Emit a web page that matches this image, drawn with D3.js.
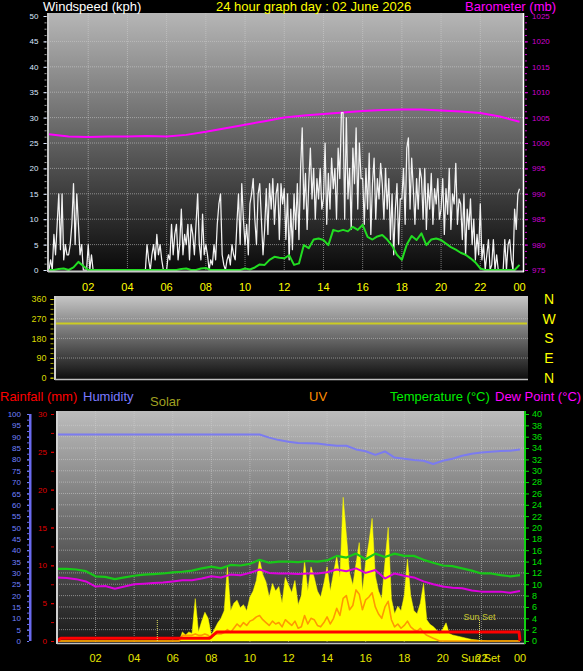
<!DOCTYPE html>
<html>
<head>
<meta charset="utf-8">
<script src="https://cdn.jsdelivr.net/npm/d3@7"></script>
<style>
  body { margin: 0; background: #000; }
  text { font-family: "Liberation Sans", Arial, sans-serif; }
</style>
</head>
<body>
<script>
// ---- values, 02 June 2026 ----

var hourTicks  = [2, 4, 6, 8, 10, 12, 14, 16, 18, 20, 22, 24];
var hourLabels = ["02","04","06","08","10","12","14","16","18","20","22","00"];

// windspeed samples (kph), one row per hour, 5 minutes apart, last value = 24:00
var windSpeedRows = [
  [0,2,0,7,3,9,15,4,15,2,5,3],
  [3,5,9,17,5,15,9,3,5,0,0,0],
  [5,0,3,0,0,0,0,0,0,0,0,0],
  [0,0,0,0,0,0,0,0,0,0,0,0],
  [0,0,0,0,0,0,0,0,0,0,0,0],
  [5,2,0,3,5,2,7,3,5,2,0,0],
  [0,3,2,9,3,7,9,2,5,12,3,7],
  [5,9,2,9,7,3,9,15,5,2,11,3],
  [5,3,0,2,1,5,2,9,13,15,3,1],
  [0,2,3,1,5,3,2,9,15,5,17,10],
  [5,9,3,13,15,18,10,5,15,17,10,3],
  [8,16,7,17,12,18,9,15,17,6,17,13],
  [16,6,15,2,12,4,15,8,17,6,20,28],
  [12,19,8,17,24,14,20,10,18,14,20,12],
  [14,25,9,19,12,22,16,20,10,24,18,31],
  [31,10,30,14,20,8,24,17,28,12,25,18],
  [18,9,20,12,23,7,17,22,10,18,14,21],
  [17,10,20,12,18,6,15,3,12,17,5,14],
  [14,20,9,24,26,12,22,16,9,18,12,20],
  [18,10,20,8,17,12,19,9,16,13,18,10],
  [12,18,7,16,11,20,8,15,13,21,9,14],
  [13,6,15,3,12,8,14,5,10,2,7,3],
  [13,2,5,0,3,6,0,1,6,0,3,0],
  [0,0,0,6,0,5,6,2,0,12,8,15],
  [16]
];

// average windspeed (kph), every 15 minutes
var windAvgRows = [
  [0,0,0.2,0.3, 0,0.5,1.6,0.8, 0,0,0,0],
  [0,0,0,0, 0,0,0,0, 0,0,0,0],
  [0,0,0,0.2, 0.3,0,0,0.3, 0.4,0,0,0],
  [0,0,0,0, 0.3,0.1,0.5,1.1, 1.0,2.0,2.6,2.4],
  [2.3,2.9,1.0,1.3, 4.9,4.3,6.0,6.2, 5.9,4.9,7.9,7.6],
  [7.9,7.6,8.5,7.9, 8.9,6.5,6.0,6.6, 6.9,6.0,4.8,3.0],
  [2.0,5.0,6.7,5.9, 7.2,4.9,6.0,6.2, 5.9,5.2,4.5,4.0],
  [3.4,3.0,2.3,1.5, 0.3,0,0,0, 0,0,0,0],
  [1.0]
];

// barometer (mb), hourly 00:00 .. 24:00
var barometer = [1001.7,1001.3,1001.2,1001.3,1001.3,1001.4,1001.3,1001.6,1002.2,1002.9,
                 1003.6,1004.3,1005.0,1005.4,1005.7,1006.0,1006.3,1006.5,1006.6,1006.6,
                 1006.4,1006.2,1005.9,1005.2,1004.2];

// wind direction (degrees), hourly
var windDir = [248,248,248,248,248,248,248,248,248,248,248,248,248,
               248,248,248,248,248,248,248,248,248,248,248,248];
var compass = ["N","W","S","E","N"];
var compassDeg = [360, 270, 180, 90, 0];

// humidity (%), temperature and dew point (C), every 30 minutes
var humidity = [91,91,91,91,91,91,91,91,
                91,91,91,91,91,91,91,91,
                91,91,91,91,91,91,89.6,88.5,
                87.8,87.2,87.1,87.0,86.5,86.0,86.0,84.4,
                83.6,82.0,83.5,80.8,80.3,79.7,79.4,78.0,
                79.4,80.3,81.6,82.5,83.0,83.4,83.7,83.8,
                84.4];
var temperature = [12.7,12.7,12.6,12.3,11.4,11.3,10.9,11.2,
                   11.5,11.7,11.8,11.9,12.1,12.2,12.4,12.8,
                   13.1,12.8,13.4,13.3,13.6,14.3,13.8,14.0,
                   14.0,13.9,14.1,14.0,14.2,15.0,14.7,15.4,
                   14.4,15.4,14.8,15.4,15.0,15.0,14.3,13.8,
                   13.3,13.2,12.8,12.4,11.9,11.9,11.6,11.4,
                   11.6];
var dewPoint = [11.2,11.1,10.9,10.5,9.6,9.7,9.2,9.6,
                10.0,10.1,10.2,10.3,10.5,10.7,10.7,11.0,
                11.4,11.2,11.7,11.6,12.0,12.6,12.0,11.9,
                11.9,11.8,11.9,11.9,12.1,12.6,12.3,12.8,
                12.0,12.5,11.0,11.9,11.5,11.2,10.5,10.0,
                9.6,9.4,9.3,8.9,8.7,8.7,8.7,8.5,
                8.8];

// solar (W/m2) and UV index, every 10 minutes, one row per hour
var solarRows = [
  [0,0,0,0,0,0],[0,0,0,0,0,0],[0,0,0,0,0,0],[0,0,0,0,0,0],[0,0,0,0,0,0],[0,0,0,0,0,0],
  [0,0,0,60,40,60],
  [50,280,60,130,190,150],
  [40,80,120,150,200,490],
  [200,250,270,220,240,200],
  [290,330,400,540,440,390],
  [290,380,330,360,250,420],
  [370,320,400,240,300,530],
  [330,490,420,330,290,380],
  [490,330,450,560,420,950],
  [700,450,370,510,650,330],
  [520,650,810,430,330,280],
  [520,750,280,180,230,200],
  [300,540,300,200,180,250],
  [380,140,110,95,75,50],
  [80,120,50,40,35,30],
  [25,20,15,10,8,6],
  [4,2,0,0,0,0],
  [0,0,0,0,0,0],
  [0]
];
var uvRows = [
  [0,0,0,0,0,0],[0,0,0,0,0,0],[0,0,0,0,0,0],[0,0,0,0,0,0],[0,0,0,0,0,0],[0,0,0,0,0,0],
  [0,0,0,0.4,0.4,0.4],
  [0.4,0.5,0.4,0.4,0.5,0.4],
  [0.2,0.5,0.5,0.5,0.6,0.8],
  [0.6,0.9,1.2,1.0,1.3,1.1],
  [1.4,1.5,1.7,1.8,1.5,1.3],
  [1.1,1.4,1.2,1.3,1.0,1.5],
  [1.3,1.1,1.4,0.9,1.0,1.8],
  [1.2,1.6,1.5,1.1,1.0,1.3],
  [1.7,1.2,1.6,2.3,1.8,3.0],
  [3.2,2.2,2.5,3.6,3.3,2.2],
  [2.9,3.1,3.4,2.4,1.9,1.6],
  [2.4,2.8,1.5,1.0,1.2,0.9],
  [1.1,1.4,1.0,0.8,0.7,0.9],
  [0.6,0.4,0.3,0.2,0.1,0],
  [0,0,0,0,0,0],[0,0,0,0,0,0],[0,0,0,0,0,0],[0,0,0,0,0,0],
  [0]
];

// rainfall total (mm) as [hour, mm]
var rainfall = [[0,0],[0.2,0.35],[7.9,0.35],[8.3,1.2],[23.95,1.2],[24,0]];

var sunRise = 5.2, sunSet = 21.9;

// ---- setup ----
var windSpeed = d3.merge(windSpeedRows);
var windAvg = d3.merge(windAvgRows);
var solar = d3.merge(solarRows);
var uv = d3.merge(uvRows);

var FONT = '"Liberation Sans", Arial, sans-serif';

var svg = d3.select('body').append('svg').attr('width', 583).attr('height', 671);
svg.append('rect').attr('width', 583).attr('height', 671).attr('fill', '#000');
var defs = svg.append('defs');

function gradient(id, top, bottom){
   var g = defs.append('linearGradient').attr('id', id)
      .attr('x1', 0).attr('y1', 0).attr('x2', 0).attr('y2', 1);
   g.append('stop').attr('offset', '0%').attr('stop-color', top);
   g.append('stop').attr('offset', '100%').attr('stop-color', bottom);
}
gradient('bgTop', '#b6b6b6', '#090909');
gradient('bgDir', '#c6c6c6', '#0c0c0c');
gradient('bgBot', '#bcbcbc', '#181818');

// scales
var xTop = d3.scaleLinear().domain([0, 24]).range([49, 519.5]);
var yWind = d3.scaleLinear().domain([0, 50]).range([270, 16]);
var yBaro = d3.scaleLinear().domain([975, 1025]).range([270, 16]);

var xDir = d3.scaleLinear().domain([0, 24]).range([56, 527]);
var yDir = d3.scaleLinear().domain([0, 360]).range([377.7, 299]);

var xBot = d3.scaleLinear().domain([0, 24]).range([57, 520]);
var yHum = d3.scaleLinear().domain([0, 100]).range([641, 414]);
var yRain = d3.scaleLinear().domain([0, 30]).range([641, 414]);
var yTemp = d3.scaleLinear().domain([0, 40]).range([641, 414]);
var ySolar = d3.scaleLinear().domain([0, 1500]).range([641, 414]);
var yUV = d3.scaleLinear().domain([0, 16]).range([641, 414]);

function styleAxis(g, color, size){
   g.select('.domain').remove();
   g.selectAll('line').attr('stroke', color);
   g.selectAll('text').attr('fill', color)
      .style('font-size', size + 'px').style('font-family', FONT);
}

function addAxis(axis, x, color, size){
   var g = svg.append('g').attr('transform', 'translate(' + x + ',0)').call(axis);
   styleAxis(g, color, size);
   return g;
}

function drawPanel(x0, x1, y0, y1, fill){
   svg.append('rect').attr('x', x0).attr('y', y0)
      .attr('width', x1 - x0).attr('height', y1 - y0).attr('fill', fill);
}

function gridLines(xs, ys, x0, x1, y0, y1){
   var g = svg.append('g').attr('stroke', '#d0d0d0').attr('stroke-opacity', 0.55)
      .attr('stroke-dasharray', '1,1');
   g.selectAll('line.v').data(xs).enter().append('line').attr('class', 'v')
      .attr('x1', function(d){ return d; }).attr('x2', function(d){ return d; })
      .attr('y1', y0).attr('y2', y1);
   g.selectAll('line.h').data(ys).enter().append('line').attr('class', 'h')
      .attr('x1', x0).attr('x2', x1)
      .attr('y1', function(d){ return d; }).attr('y2', function(d){ return d; });
}

function addText(str, x, y, color, size, anchor){
   return svg.append('text').attr('x', x).attr('y', y).attr('fill', color)
      .attr('text-anchor', anchor || 'start')
      .style('font-size', size + 'px').style('font-family', FONT).text(str);
}

function drawLine(data, xf, yf, color, width){
   svg.append('path').datum(data)
      .attr('d', d3.line().x(xf).y(yf))
      .attr('fill', 'none').attr('stroke', color).attr('stroke-width', width)
      .attr('stroke-linejoin', 'round');
}

// ---- top graph: windspeed and barometer ----
drawPanel(48, 524, 13, 272, 'url(#bgTop)');
gridLines(hourTicks.slice(0, 11).map(xTop), d3.range(5, 50, 5).map(yWind), 48, 523, 13, 271);

drawLine(barometer, function(d, i){ return xTop(i); }, function(d){ return yBaro(d); }, '#ff00ff', 2);
drawLine(windSpeed, function(d, i){ return xTop(i / 12); }, function(d){ return yWind(d); }, '#f2f2f2', 1.25);
drawLine(windAvg, function(d, i){ return xTop(i / 4); }, function(d){ return yWind(d); }, '#22dd22', 2);

svg.append('line').attr('x1', 48).attr('x2', 48).attr('y1', 13).attr('y2', 272)
   .attr('stroke', '#c8c8c8').attr('stroke-width', 2);
svg.append('line').attr('x1', 48).attr('x2', 524).attr('y1', 271.5).attr('y2', 271.5)
   .attr('stroke', '#c8c8c8').attr('stroke-width', 2);
svg.append('line').attr('x1', 523.5).attr('x2', 523.5).attr('y1', 13).attr('y2', 272)
   .attr('stroke', '#ffffff').attr('stroke-width', 1.5);

addAxis(d3.axisLeft(yWind).tickValues(d3.range(0, 50.01, 1.25)).tickSize(2).tickFormat(''), 46.5, '#a0a0a0', 8);
addAxis(d3.axisLeft(yWind).tickValues(d3.range(0, 51, 5)).tickSize(3).tickPadding(5), 46.5, '#dde8ff', 8);
addAxis(d3.axisRight(yBaro).tickValues(d3.range(975, 1025.01, 1.25)).tickSize(2).tickFormat(''), 525, '#cc00cc', 8);
addAxis(d3.axisRight(yBaro).tickValues(d3.range(975, 1026, 5)).tickSize(3).tickPadding(4)
   .tickFormat(d3.format('d')), 525, '#d000d0', 8);

svg.selectAll('text.top-hour').data(hourTicks).enter().append('text')
   .attr('class', 'top-hour')
   .attr('x', function(d){ return xTop(d); }).attr('y', 291)
   .attr('text-anchor', 'middle').attr('fill', '#ffff00')
   .style('font-size', '11px').style('font-family', FONT)
   .text(function(d, i){ return hourLabels[i]; });

addText('Windspeed (kph)', 43, 11, '#ffffff', 13);
addText('24 hour graph day : 02 June 2026', 216, 11, '#ffff00', 13);
addText('Barometer (mb)', 465, 11, '#ff00ff', 13);

// ---- wind direction ----
drawPanel(55, 528, 296, 380, 'url(#bgDir)');
gridLines([], [90, 180, 270].map(yDir), 55, 528, 296, 380);
drawLine(windDir, function(d, i){ return xDir(i); }, function(d){ return yDir(d); }, '#cccc22', 2);
svg.append('line').attr('x1', 55).attr('x2', 55).attr('y1', 296).attr('y2', 380)
   .attr('stroke', '#d0d0d0').attr('stroke-width', 2);
svg.append('line').attr('x1', 55).attr('x2', 528).attr('y1', 379.5).attr('y2', 379.5)
   .attr('stroke', '#c0c0c0').attr('stroke-width', 1.5);

addAxis(d3.axisLeft(yDir).tickValues(d3.range(0, 360.1, 22.5)).tickSize(3).tickFormat(''), 53.5, '#a8a800', 9);
addAxis(d3.axisLeft(yDir).tickValues([0, 90, 180, 270, 360]).tickSize(3).tickPadding(4), 53.5, '#d8d800', 9);

svg.selectAll('text.compass').data(compass).enter().append('text')
   .attr('class', 'compass')
   .attr('x', 549).attr('y', function(d, i){ return yDir(compassDeg[i]) + 5; })
   .attr('text-anchor', 'middle').attr('fill', '#ffff00')
   .style('font-size', '14px').style('font-family', FONT)
   .text(function(d){ return d; });

// ---- bottom graph: rain, humidity, solar, uv, temperature, dew point ----
addText('Rainfall (mm)', 0, 401, '#ff0000', 13);
addText('Humidity', 83, 401, '#7b7bff', 13);
addText('Solar', 150, 406, '#a0a020', 13);
addText('UV', 309, 401, '#ff8c00', 13);
addText('Temperature (\u00b0C)', 390, 401, '#00ee00', 13);
addText('Dew Point (\u00b0C)', 495, 401, '#ff00ff', 13);

drawPanel(57, 525, 411, 644, 'url(#bgBot)');
gridLines(hourTicks.slice(0, 11).map(xBot), d3.range(2, 40, 2).map(yTemp), 57, 524, 411, 642);

svg.append('path').datum(solar)
   .attr('d', d3.area()
      .x(function(d, i){ return xBot(i / 6); })
      .y0(ySolar(0)).y1(function(d){ return ySolar(d); }))
   .attr('fill', '#ffff00').attr('stroke', '#ffff00').attr('stroke-width', 0.5);

drawLine(uv, function(d, i){ return xBot(i / 6); }, function(d){ return yUV(d); }, '#ff9900', 1.6);
drawLine(humidity, function(d, i){ return xBot(i / 2); }, function(d){ return yHum(d); }, '#7b7bf0', 2);
drawLine(temperature, function(d, i){ return xBot(i / 2); }, function(d){ return yTemp(d); }, '#18c818', 2.2);
drawLine(dewPoint, function(d, i){ return xBot(i / 2); }, function(d){ return yTemp(d); }, '#dd00dd', 2);
drawLine(rainfall, function(d){ return xBot(d[0]); }, function(d){ return yRain(d[1]); }, '#ff0000', 3);

// sun rise / sun set markers
svg.selectAll('line.sun').data([sunRise, sunSet]).enter().append('line')
   .attr('class', 'sun')
   .attr('x1', function(d){ return xBot(d); }).attr('x2', function(d){ return xBot(d); })
   .attr('y1', 620).attr('y2', 641)
   .attr('stroke', '#e0e060').attr('stroke-dasharray', '1,1');
addText('Sun Set', xBot(sunSet) - 16, 620, '#c8c830', 9);

svg.append('line').attr('x1', 57).attr('x2', 57).attr('y1', 411).attr('y2', 644)
   .attr('stroke', '#d0d0d0').attr('stroke-width', 2);
svg.append('line').attr('x1', 57).attr('x2', 525).attr('y1', 643.5).attr('y2', 643.5)
   .attr('stroke', '#c0c0c0').attr('stroke-width', 1.5);
svg.append('rect').attr('x', 524).attr('y', 411).attr('width', 2).attr('height', 233).attr('fill', '#10d010');
svg.append('rect').attr('x', 29).attr('y', 414).attr('width', 2.5).attr('height', 227).attr('fill', '#6a6aee');

addAxis(d3.axisLeft(yHum).tickValues(d3.range(0, 100.1, 2.5)).tickSize(2).tickFormat(''), 29, '#6a6aee', 8);
addAxis(d3.axisLeft(yHum).tickValues(d3.range(0, 101, 5)).tickSize(2).tickPadding(6), 29, '#7080ff', 8);
addAxis(d3.axisLeft(yRain).tickValues(d3.range(0, 30.1, 2.5)).tickSize(3).tickFormat(''), 54, '#cc0000', 8);
addAxis(d3.axisLeft(yRain).tickValues(d3.range(0, 31, 5)).tickSize(3).tickPadding(4), 54, '#e00000', 8);
addAxis(d3.axisRight(yTemp).tickValues(d3.range(0, 41, 2)).tickSize(3).tickPadding(3), 526, '#00e000', 9);

svg.selectAll('text.bot-hour').data(hourTicks).enter().append('text')
   .attr('class', 'bot-hour')
   .attr('x', function(d){ return xBot(d); }).attr('y', 662)
   .attr('text-anchor', 'middle').attr('fill', '#e6e600')
   .style('font-size', '11px').style('font-family', FONT)
   .text(function(d, i){ return hourLabels[i]; });
addText('Sun Set', 461, 662, '#e6e600', 11);
</script>
</body>
</html>
